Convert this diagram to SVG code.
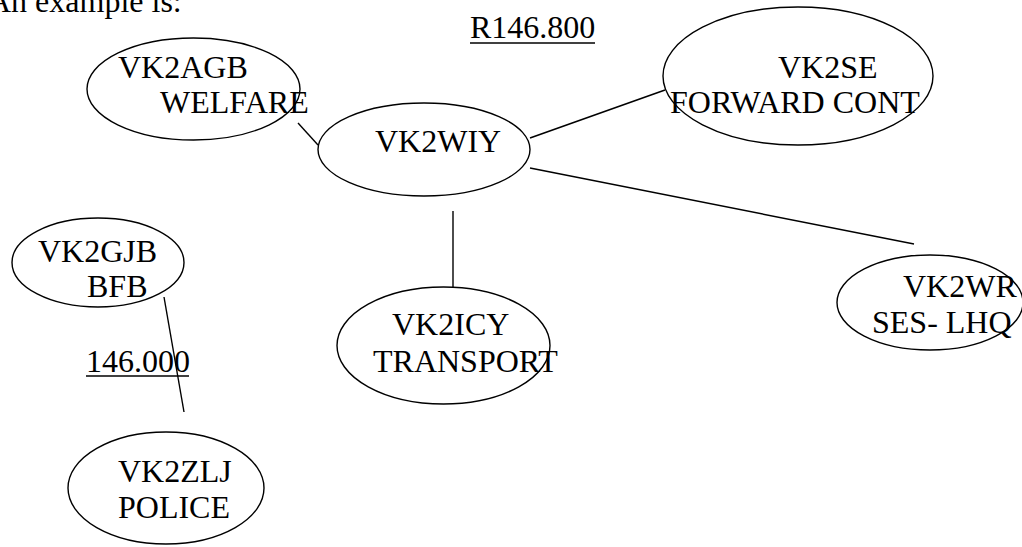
<svg xmlns="http://www.w3.org/2000/svg" width="1022" height="547" viewBox="0 0 1022 547">
<style>
.n ellipse{fill:none;stroke:#000;stroke-width:1.4}
text{font-family:"Liberation Serif","Times New Roman",serif;font-size:32px;fill:#000}
.c line{stroke:#000;stroke-width:1.4}
.u{stroke:#000;stroke-width:1.6}
</style>
<rect width="1022" height="547" fill="#fff"/>
<text x="-12" y="12">An example is:</text>
<g id="freq1"><text x="470" y="38">R146.800</text><line class="u" x1="470" y1="43" x2="595" y2="43"/></g>
<g id="freq2"><text x="86" y="372">146.000</text><line class="u" x1="86" y1="376" x2="189" y2="376"/></g>
<g class="c" id="connectors">
<line x1="298" y1="123" x2="318" y2="145"/>
<line x1="530" y1="138" x2="665" y2="90"/>
<line x1="530" y1="168" x2="914" y2="244"/>
<line x1="453" y1="211" x2="453" y2="287"/>
<line x1="164" y1="297" x2="184" y2="412"/>
</g>
<g class="n" id="vk2agb"><ellipse cx="193.5" cy="89" rx="106.5" ry="51"/><text x="118" y="78">VK2AGB</text><text x="160" y="113">WELFARE</text></g>
<g class="n" id="vk2wiy"><ellipse cx="424" cy="149.5" rx="106" ry="46.5"/><text x="375" y="152">VK2WIY</text></g>
<g class="n" id="vk2se"><ellipse cx="798" cy="76" rx="135" ry="69"/><text x="778" y="78">VK2SE</text><text x="670" y="113">FORWARD CONT</text></g>
<g class="n" id="vk2gjb"><ellipse cx="98" cy="262.5" rx="86" ry="44.5"/><text x="38" y="262">VK2GJB</text><text x="87" y="297">BFB</text></g>
<g class="n" id="vk2icy"><ellipse cx="443.5" cy="345.5" rx="106.5" ry="58.5"/><text x="392" y="335">VK2ICY</text><text x="373" y="372">TRANSPORT</text></g>
<g class="n" id="vk2wr"><ellipse cx="930" cy="302.5" rx="93" ry="47.5"/><text x="903" y="297">VK2WR</text><text x="872" y="333">SES- LHQ</text></g>
<g class="n" id="vk2zlj"><ellipse cx="166" cy="488" rx="98" ry="56"/><text x="118" y="482">VK2ZLJ</text><text x="118" y="518">POLICE</text></g>
</svg>
